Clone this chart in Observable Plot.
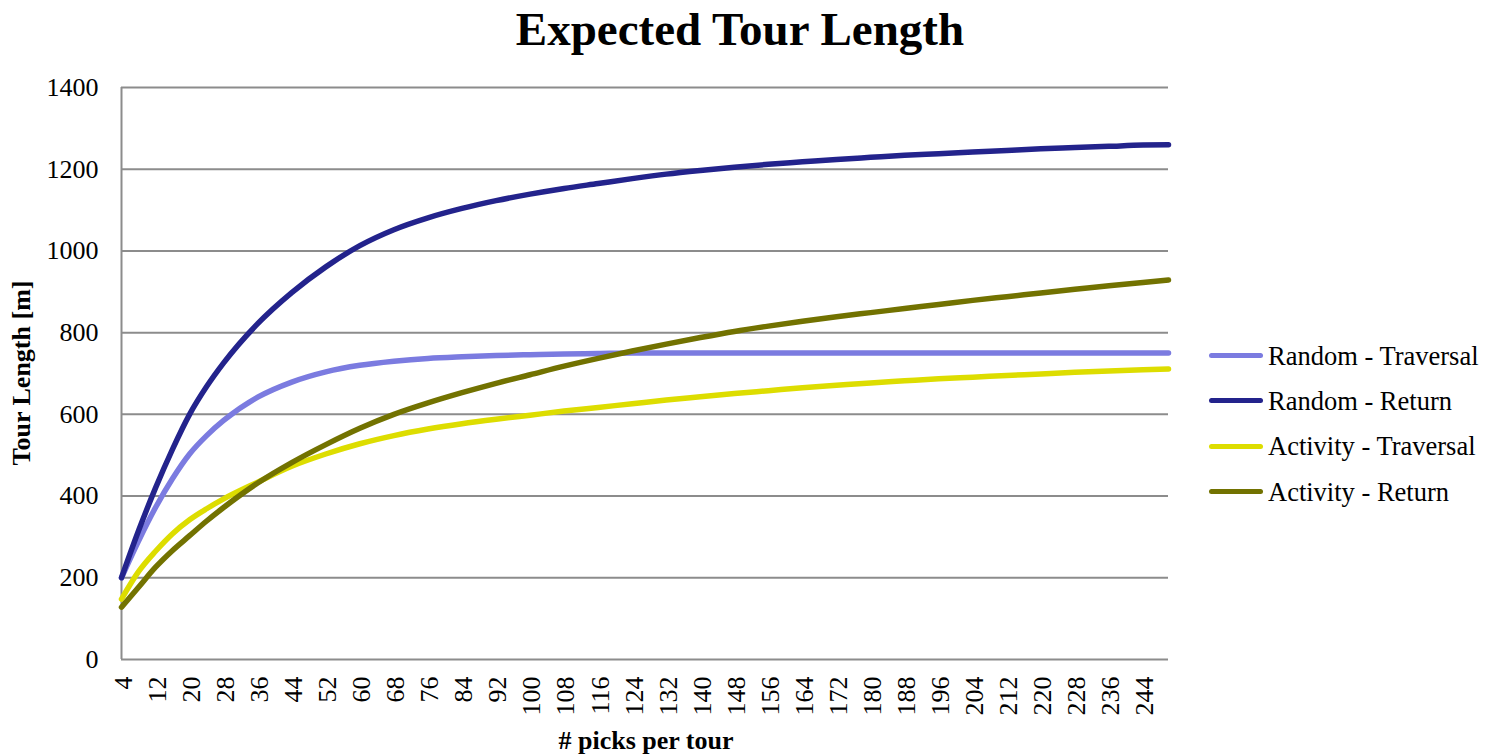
<!DOCTYPE html>
<html>
<head>
<meta charset="utf-8">
<script src="https://cdn.jsdelivr.net/npm/d3@7"></script>
<script src="https://cdn.jsdelivr.net/npm/@observablehq/plot@0.6"></script>
<style>
  html, body { margin: 0; padding: 0; background: #fff; }
  #wrap { position: relative; width: 1485px; height: 756px; font-family: "Liberation Serif", "Times New Roman", serif; color: #000; }
  #chart { position: absolute; left: 0; top: 0; }
  .title { position: absolute; left: 0; width: 1480px; top: 1px; text-align: center; font-size: 47px; font-weight: bold; line-height: 56px; }
  .xlabel { position: absolute; left: 446px; width: 400px; top: 726px; text-align: center; font-size: 26px; font-weight: bold; line-height: 30px; }
  .ylabel { position: absolute; left: 22px; top: 373px; transform: translate(-50%, -50%) rotate(-90deg); font-size: 26px; font-weight: bold; white-space: nowrap; line-height: 30px; }
  .legend { position: absolute; left: 1209px; top: 333px; }
  .legend .row { display: flex; align-items: center; height: 45.3px; }
  .legend .sw { width: 54px; height: 5px; border-radius: 3px; margin-right: 5px; }
  .legend .lbl { font-size: 26.5px; line-height: 30px; white-space: nowrap; }
</style>
</head>
<body>
<div id="wrap">
  <div id="chart"></div>
  <div class="title">Expected Tour Length</div>
  <div class="xlabel"># picks per tour</div>
  <div class="ylabel">Tour Length [m]</div>
  <div class="legend" id="legend"></div>
</div>
<script>
const picks = [4,8,12,16,20,24,28,36,44,52,60,68,76,84,92,100,108,116,124,132,140,148,156,164,172,180,188,196,204,212,220,228,236,244,250];

const randomTraversal = [200,290,372,443,503,548,585,642,679,704,720,730,737,741,744,746,748,749,750,750,750,750,750,750,750,750,750,750,750,750,750,750,750,750,750];
const randomReturn    = [200,315,420,515,600,668,726,822,898,961,1013,1052,1081,1104,1123,1139,1153,1165,1177,1188,1197,1205,1212,1218,1224,1229,1234,1238,1242,1246,1250,1253,1256,1259,1260];
const activityTraversal = [148,215,265,308,342,369,393,434,473,503,528,548,564,577,588,598,608,617,626,635,643,651,658,665,671,677,682,687,691,695,699,703,706,709,711];
const activityReturn  = [128,177,226,267,303,339,372,432,482,526,566,600,628,653,676,697,718,737,755,772,788,803,816,828,839,849,859,869,879,888,897,906,915,923,929];

const seriesNames = ["Random - Traversal", "Random - Return", "Activity - Traversal", "Activity - Return"];
const seriesColors = ["#7b7be0", "#23238c", "#dddd00", "#727200"];
const seriesValues = [randomTraversal, randomReturn, activityTraversal, activityReturn];

const xTicks = d3.range(4, 245, 8);
const yTicks = d3.range(0, 1401, 200);

const rows = [];
seriesNames.forEach((name, i) => {
  picks.forEach((p, j) => rows.push({series: name, picks: p, length: seriesValues[i][j]}));
});

const font = {fontFamily: "Liberation Serif, Times New Roman, serif", fontSize: "26px", color: "#000"};

const chart = Plot.plot({
  width: 1485,
  height: 756,
  marginLeft: 121,
  marginRight: 317,
  marginTop: 87,
  marginBottom: 97,
  style: font,
  x: {domain: [4, 250]},
  y: {domain: [0, 1400]},
  color: {domain: seriesNames, range: seriesColors},
  marks: [
    Plot.gridY(yTicks.filter(d => d > 0), {stroke: "#8c8c8c", strokeOpacity: 1, strokeWidth: 2}),
    Plot.ruleY([0], {stroke: "#8c8c8c", strokeWidth: 2}),
    Plot.ruleX([4], {stroke: "#8c8c8c", strokeWidth: 2}),
    Plot.axisY({ticks: yTicks, tickSize: 0, tickPadding: 23, label: null, tickFormat: d => String(d)}),
    Plot.axisX({ticks: xTicks, tickSize: 0, tickPadding: 17, tickRotate: -90, label: null, tickFormat: d => String(d), dx: 2}),
    Plot.line(rows, {x: "picks", y: "length", z: "series", stroke: "series", strokeWidth: 5.5, curve: "monotone-x", strokeLinecap: "round", strokeLinejoin: "round"})
  ]
});
document.getElementById("chart").appendChild(chart);

const legend = document.getElementById("legend");
seriesNames.forEach((name, i) => {
  const row = document.createElement("div");
  row.className = "row";
  const sw = document.createElement("div");
  sw.className = "sw";
  sw.style.background = seriesColors[i];
  const lbl = document.createElement("div");
  lbl.className = "lbl";
  lbl.textContent = name;
  row.appendChild(sw);
  row.appendChild(lbl);
  legend.appendChild(row);
});
</script>
</body>
</html>
